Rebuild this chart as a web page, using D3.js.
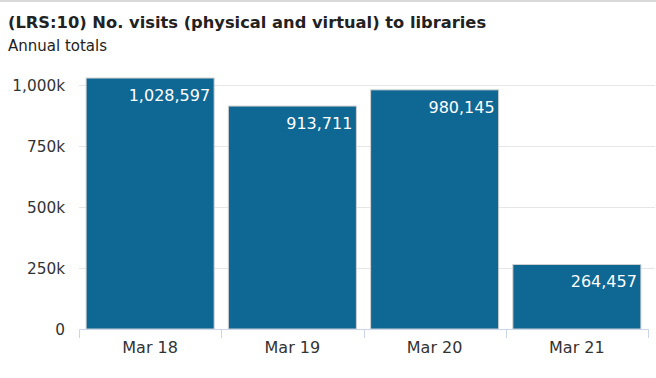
<!DOCTYPE html>
<html><head><meta charset="utf-8">
<script src="https://cdn.jsdelivr.net/npm/d3@7"></script>
<style>
html,body{margin:0;padding:0;background:#fff;}
svg{display:block;}
</style></head>
<body><svg id="chart" width="656" height="378"></svg>
<script>
const categories = ["Mar 18", "Mar 19", "Mar 20", "Mar 21"];
const visits = [1028597, 913711, 980145, 264457];
const yTicks = [0, 250000, 500000, 750000, 1000000];
const titleText = "(LRS:10) No. visits (physical and virtual) to libraries";
const subtitleText = "Annual totals";

const W = 656, H = 378;
const svg = d3.select("#chart");
const font = "'DejaVu Sans', Verdana, sans-serif";

svg.append("rect").attr("x",0).attr("y",0).attr("width",W).attr("height",2).attr("fill","#d9d9d9");

svg.append("text").attr("x",8).attr("y",28).attr("font-family",font).attr("font-weight","bold")
  .attr("font-size",16.3).attr("fill","#222").text(titleText);
svg.append("text").attr("x",8).attr("y",51).attr("font-family",font)
  .attr("font-size",15).attr("fill","#222").text(subtitleText);

const x = d3.scaleBand().domain(categories).range([79, 648]).paddingInner(0.1).paddingOuter(0.05);
const y = d3.scaleLinear().domain([0, 1000000]).range([329, 85]);

// gridlines
svg.append("g").selectAll("line").data(yTicks.slice(1)).join("line")
  .attr("x1",79).attr("x2",655).attr("y1",d=>Math.round(y(d))+0.5).attr("y2",d=>Math.round(y(d))+0.5)
  .attr("stroke","#e6e6e6").attr("stroke-width",1);

// y axis labels
const yAxis = d3.axisLeft(y).tickValues(yTicks).tickSize(0).tickPadding(0)
  .tickFormat(d => d === 0 ? "0" : d3.format(",")(d/1000) + "k");
const yg = svg.append("g").attr("transform","translate(65,0)").call(yAxis);
yg.select(".domain").remove();
yg.selectAll("text").attr("font-family",font).attr("font-size",15.3).attr("fill","#333").attr("dy","0.35em");

// bars
svg.append("g").selectAll("rect").data(visits).join("rect")
  .attr("x",(d,i)=>x(categories[i])).attr("width",x.bandwidth())
  .attr("y",d=>y(d)).attr("height",d=>y(0)-y(d))
  .attr("fill","#0f6794").attr("stroke","#d0d0d0").attr("stroke-width",1);

// value labels
svg.append("g").selectAll("text").data(visits).join("text")
  .attr("x",(d,i)=>x(categories[i])+x.bandwidth()-4)
  .attr("y",d=>y(d)+23)
  .attr("text-anchor","end").attr("font-family",font).attr("font-size",16).attr("fill","#fff")
  .text(d=>d3.format(",")(d));

// x axis
const step = x.step();
const bounds = categories.map((c,i)=>x(c) - step*x.paddingInner()/2).concat([x(categories[3]) + x.bandwidth() + step*x.paddingInner()/2]);
svg.append("line").attr("x1",79).attr("x2",bounds[4]).attr("y1",329.5).attr("y2",329.5).attr("stroke","#ccd6eb");
svg.append("g").selectAll("line").data(bounds).join("line")
  .attr("x1",d=>Math.round(d)+0.5).attr("x2",d=>Math.round(d)+0.5).attr("y1",329).attr("y2",338).attr("stroke","#ccd6eb");
const xAxis = d3.axisBottom(x).tickSize(0).tickPadding(0);
const xg = svg.append("g").attr("transform","translate(0,353)").call(xAxis);
xg.select(".domain").remove();
xg.selectAll("text").attr("font-family",font).attr("font-size",16).attr("fill","#333").attr("dy","0");
</script></body></html>
